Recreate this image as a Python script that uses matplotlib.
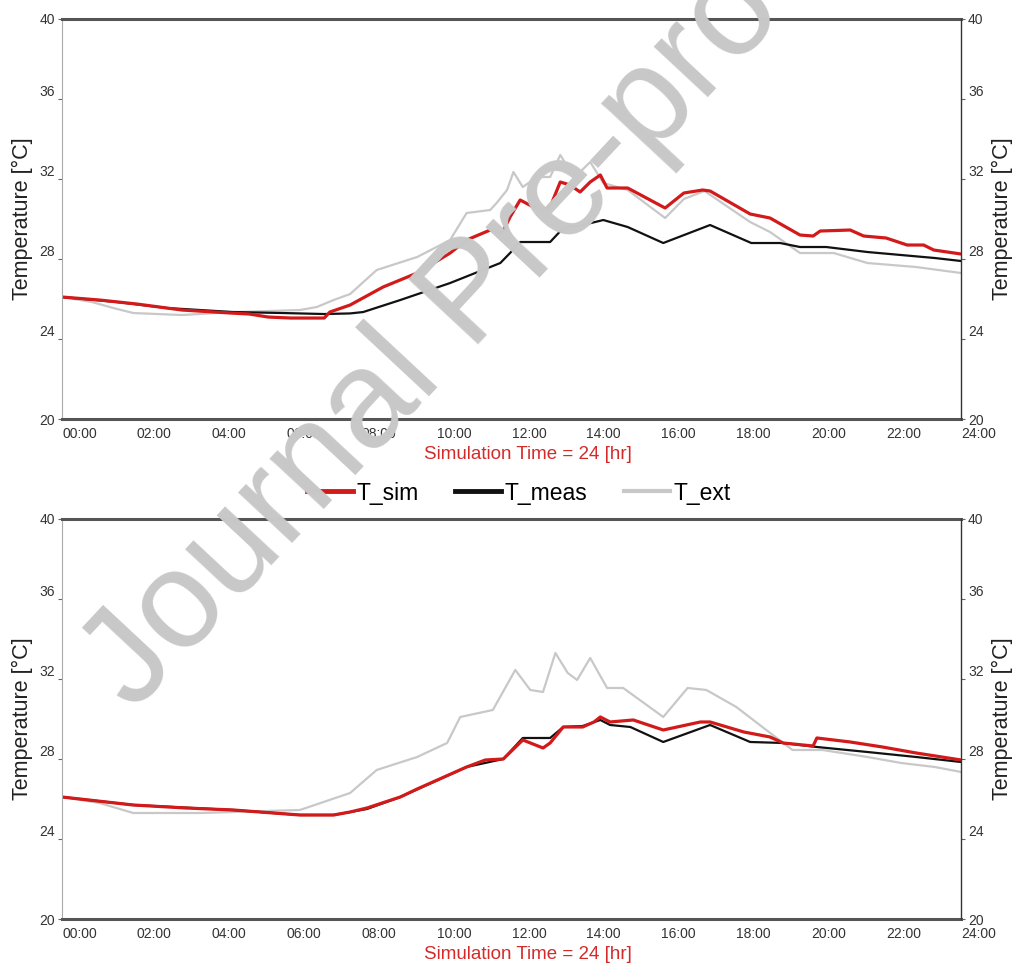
import matplotlib
matplotlib.use("Agg")
import matplotlib.pyplot as plt
from matplotlib.lines import Line2D

plt.rcParams['font.family'] = ['Liberation Sans', 'DejaVu Sans']

# eixo do tempo (horas) e rotulos
hour_ticks = [0, 2, 4, 6, 8, 10, 12, 14, 16, 18, 20, 22, 24]
hour_labels = ["00:00", "02:00", "04:00", "06:00", "08:00", "10:00", "12:00",
               "14:00", "16:00", "18:00", "20:00", "22:00", "24:00"]
temp_ticks = [20, 24, 28, 32, 36, 40]

# painel de cima
top_sim_t = [0, 1.0, 2.0, 3.2, 4.5, 5.0, 5.5, 6.1, 7.0, 7.15, 7.69, 8.57, 9.48, 10.36, 10.8,
             11.43, 11.75, 11.96, 12.23, 12.58, 12.84, 13.03, 13.3, 13.56, 13.83, 14.1, 14.37,
             14.55, 15.1, 15.7, 16.1, 16.6, 17.1, 17.3, 18.37, 18.9, 19.7, 20.05, 20.24, 21.04,
             21.4, 22.0, 22.56, 23.0, 23.27, 24]
top_sim = [26.1, 25.95, 25.75, 25.45, 25.3, 25.25, 25.1, 25.05, 25.05, 25.35, 25.7, 26.6, 27.3,
           28.3, 28.95, 29.45, 29.3, 30.1, 30.95, 30.6, 30.45, 30.6, 31.85, 31.7, 31.35, 31.85,
           32.2, 31.55, 31.55, 30.95, 30.55, 31.3, 31.45, 31.4, 30.25, 30.05, 29.2, 29.15, 29.4,
           29.45, 29.15, 29.05, 28.7, 28.7, 28.45, 28.25]

top_meas_t = [0, 1.47, 2.8, 4.57, 5.9, 7.0, 7.69, 8.04, 9.03, 10.36, 11.7, 11.96, 12.23, 13.03,
              13.38, 13.9, 14.45, 15.1, 16.05, 17.3, 18.4, 19.17, 19.7, 20.4, 21.5, 23.3, 24]
top_meas = [26.1, 25.85, 25.55, 25.35, 25.3, 25.25, 25.28, 25.35, 25.95, 26.8, 27.8, 28.3, 28.85,
            28.85, 29.55, 29.7, 29.95, 29.6, 28.8, 29.7, 28.8, 28.8, 28.6, 28.6, 28.35, 28.05, 27.9]

top_ext_t = [0, 0.8, 1.37, 1.9, 3.2, 4.57, 5.5, 6.35, 6.8, 7.25, 7.69, 8.4, 9.48, 10.36, 10.8,
             11.43, 11.6, 11.88, 12.05, 12.3, 12.68, 13.03, 13.3, 13.5, 13.83, 14.1, 14.45, 15.1,
             16.1, 16.6, 17.15, 18.37, 18.9, 19.7, 20.6, 21.5, 22.8, 24]
top_ext = [26.1, 25.85, 25.55, 25.3, 25.2, 25.35, 25.4, 25.45, 25.6, 25.95, 26.25, 27.45, 28.1,
           28.95, 30.3, 30.45, 30.8, 31.45, 32.35, 31.6, 32.1, 32.1, 33.2, 32.6, 32.35, 32.85,
           31.8, 31.45, 30.05, 31.0, 31.4, 29.85, 29.35, 28.3, 28.3, 27.8, 27.6, 27.3]

# painel de baixo
bot_sim_t = [0, 1.9, 3.3, 4.57, 6.35, 7.25, 7.69, 8.14, 9.03, 9.48, 10.8, 11.3, 11.78, 12.3,
             12.84, 13.03, 13.38, 13.9, 14.2, 14.37, 14.63, 15.25, 16.05, 17.04, 17.3, 18.2,
             18.9, 19.25, 20.05, 20.15, 21.04, 21.9, 22.8, 24]
bot_sim = [26.1, 25.7, 25.55, 25.45, 25.2, 25.2, 25.35, 25.55, 26.1, 26.5, 27.6, 27.95, 28.0,
           28.95, 28.55, 28.8, 29.6, 29.6, 29.85, 30.1, 29.85, 29.95, 29.45, 29.85, 29.85, 29.35,
           29.1, 28.8, 28.65, 29.05, 28.85, 28.6, 28.3, 27.95]

bot_meas_t = [0, 1.9, 4.57, 6.35, 7.25, 8.14, 9.03, 10.8, 11.78, 12.3, 13.03, 13.38, 13.9,
              14.37, 14.63, 15.17, 16.05, 17.3, 18.37, 19.25, 20.15, 21.5, 22.8, 24]
bot_meas = [26.1, 25.7, 25.45, 25.2, 25.2, 25.5, 26.1, 27.6, 28.0, 29.05, 29.05, 29.6, 29.65,
            29.95, 29.7, 29.6, 28.85, 29.7, 28.85, 28.8, 28.6, 28.35, 28.1, 27.85]

bot_ext_t = [0, 1.0, 1.9, 3.7, 6.35, 7.69, 8.4, 9.48, 10.28, 10.63, 11.5, 12.1, 12.5, 12.84,
             13.17, 13.5, 13.75, 14.1, 14.55, 14.98, 16.05, 16.7, 17.2, 18.0, 18.8, 19.5, 20.3,
             21.5, 22.4, 23.3, 24]
bot_ext = [26.1, 25.8, 25.3, 25.3, 25.45, 26.3, 27.45, 28.1, 28.8, 30.1, 30.45, 32.45, 31.45,
           31.35, 33.3, 32.3, 31.95, 33.05, 31.55, 31.55, 30.1, 31.55, 31.45, 30.6, 29.45, 28.45,
           28.45, 28.1, 27.8, 27.6, 27.35]

c_sim = '#d21a1a'
c_meas = '#111111'
c_ext = '#c8c8c8'


def ajusta_rotulos_y(ax):
    # 20 e 40 ficam centrados, os outros ficam um pouco acima do tick
    for lbl, v in zip(ax.get_yticklabels(), temp_ticks):
        if v not in (20, 40):
            lbl.set_verticalalignment('bottom')


def arruma_eixo(ax):
    ax.set_xlim(0, 24)
    ax.set_ylim(20, 40)
    ax.set_xticks(hour_ticks)
    ax.set_xticklabels(hour_labels)
    for lbl in ax.get_xticklabels():
        lbl.set_horizontalalignment('left')
    ax.set_yticks(temp_ticks)
    ax.tick_params(axis='x', length=0, pad=6, labelsize=10, labelcolor='#333333')
    ax.tick_params(axis='y', length=3, pad=2, labelsize=10, labelcolor='#333333', color='#666666')
    ajusta_rotulos_y(ax)
    ax.spines['top'].set_linewidth(2.2)
    ax.spines['top'].set_color('#555555')
    ax.spines['bottom'].set_linewidth(2.2)
    ax.spines['bottom'].set_color('#555555')
    ax.spines['left'].set_linewidth(0.8)
    ax.spines['left'].set_color('#aaaaaa')
    ax.spines['right'].set_visible(False)
    ax.set_ylabel('Temperature [°C]', fontsize=15.5, labelpad=5, color='#222222')
    ax.set_xlabel('Simulation Time = 24 [hr]', fontsize=13.5, color='#d42a2a')
    ax.xaxis.set_label_coords(0.518, -0.068)
    # eixo da direita
    ax_r = ax.twinx()
    ax_r.set_ylim(20, 40)
    ax_r.set_yticks(temp_ticks)
    ax_r.tick_params(axis='y', length=3, pad=2, labelsize=10, labelcolor='#333333', color='#666666')
    ajusta_rotulos_y(ax_r)
    for s in ['top', 'bottom', 'left']:
        ax_r.spines[s].set_visible(False)
    ax_r.spines['right'].set_linewidth(1.0)
    ax_r.spines['right'].set_color('#333333')
    ax_r.set_ylabel('Temperature [°C]', fontsize=15.5, labelpad=6, color='#222222')


fig = plt.figure(figsize=(10.17, 9.68), dpi=100)
ax1 = fig.add_axes([0.061, 0.5671, 0.884, 0.4133])
ax2 = fig.add_axes([0.061, 0.0506, 0.884, 0.4133])

ax1.plot(top_ext_t, top_ext, color=c_ext, lw=1.6)
ax1.plot(top_meas_t, top_meas, color=c_meas, lw=1.6)
ax1.plot(top_sim_t, top_sim, color=c_sim, lw=2.3)

ax2.plot(bot_ext_t, bot_ext, color=c_ext, lw=1.6)
ax2.plot(bot_meas_t, bot_meas, color=c_meas, lw=1.6)
ax2.plot(bot_sim_t, bot_sim, color=c_sim, lw=2.3)

arruma_eixo(ax1)
arruma_eixo(ax2)

handles = [Line2D([], [], color=c_sim, lw=3.5),
           Line2D([], [], color=c_meas, lw=3.5),
           Line2D([], [], color=c_ext, lw=3.0)]
fig.legend(handles, ['T_sim', 'T_meas', 'T_ext'], loc='center',
           bbox_to_anchor=(0.51, 1 - 493 / 968), ncol=3, frameon=False, fontsize=16.5,
           handlelength=2.0, handletextpad=0.15, columnspacing=1.6)

# marca d'agua
fig.text(0.465, 0.694, 'Journal Pre-proof', rotation=47, fontsize=100, color='#c8c8c8',
         ha='center', va='center', zorder=10)

fig.savefig('out.png', dpi=100)
